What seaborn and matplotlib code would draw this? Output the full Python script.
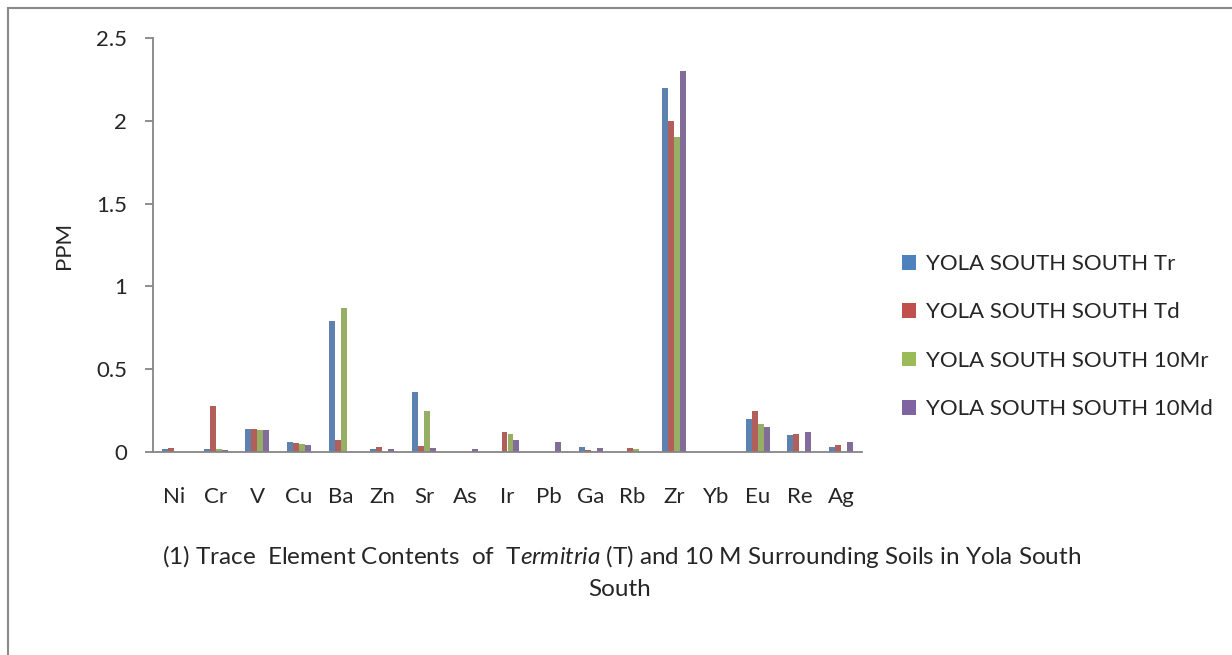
import matplotlib
matplotlib.use("Agg")
import matplotlib.pyplot as plt
import seaborn as sns
import pandas as pd
from matplotlib.patches import Patch, Rectangle

elements = ["Ni", "Cr", "V", "Cu", "Ba", "Zn", "Sr", "As", "Ir", "Pb", "Ga", "Rb", "Zr", "Yb", "Eu", "Re", "Ag"]
series_names = ["YOLA SOUTH SOUTH Tr", "YOLA SOUTH SOUTH Td", "YOLA SOUTH SOUTH 10Mr", "YOLA SOUTH SOUTH 10Md"]
tr  = [0.02, 0.02, 0.14, 0.06, 0.79, 0.02, 0.36, 0.0, 0.0, 0.0, 0.03, 0.0, 2.2, 0.0, 0.2, 0.1, 0.03]
td  = [0.025, 0.28, 0.14, 0.055, 0.07, 0.03, 0.035, 0.0, 0.12, 0.0, 0.01, 0.025, 2.0, 0.0, 0.25, 0.11, 0.04]
mr  = [0.0, 0.02, 0.13, 0.05, 0.87, 0.0, 0.25, 0.0, 0.11, 0.0, 0.005, 0.02, 1.9, 0.0, 0.17, 0.0, 0.0]
md  = [0.0, 0.01, 0.13, 0.045, 0.0, 0.02, 0.025, 0.02, 0.07, 0.06, 0.025, 0.0, 2.3, 0.0, 0.15, 0.12, 0.06]
y_ticks = [0, 0.5, 1, 1.5, 2, 2.5]
y_tick_labels = ["0", "0.5", "1", "1.5", "2", "2.5"]
colors = ["#4F81BD", "#C0504D", "#9BBB59", "#8064A2"]

rows = []
for name, vals in zip(series_names, [tr, td, mr, md]):
    for el, v in zip(elements, vals):
        rows.append({"Element": el, "Series": name, "PPM": v})
df = pd.DataFrame(rows)

sns.set_style("white")
FONT = "Lato"
FS = 16
plt.rcParams["font.family"] = [FONT, "DejaVu Sans"]
plt.rcParams["mathtext.fontset"] = "custom"
plt.rcParams["mathtext.rm"] = FONT
plt.rcParams["mathtext.it"] = FONT + ":italic"

fig = plt.figure(figsize=(12.32, 6.55), dpi=100)
ax = fig.add_axes([153/1232, 1 - 452/655, (862 - 153)/1232, (452 - 38)/655])

sns.barplot(data=df, x="Element", y="PPM", hue="Series", hue_order=series_names,
            order=elements, palette=colors, width=0.575, linewidth=0, ax=ax,
            legend=False, errorbar=None)

ax.set_ylim(0, 2.5)
ax.set_xlim(-0.5, len(elements) - 0.5)
ax.set_yticks(y_ticks)
ax.set_yticklabels(y_tick_labels)
ax.set_xlabel("")
ax.set_ylabel("PPM", fontsize=FS, labelpad=16)
for s in ["top", "right"]:
    ax.spines[s].set_visible(False)
for s in ["left", "bottom"]:
    ax.spines[s].set_color("#868686")
    ax.spines[s].set_linewidth(1.3)
ax.tick_params(axis="y", which="both", left=True, length=8 / 1.389, width=1.3, color="#868686",
               labelsize=FS, pad=13)
ax.tick_params(axis="x", bottom=False, labelsize=FS, pad=22)

handles = [Patch(facecolor=c, edgecolor="none") for c in colors]
fig.legend(handles, series_names, loc="upper left", bbox_to_anchor=(893/1232, 1 - 245/655),
           frameon=False, fontsize=FS, handlelength=0.65, handleheight=0.65,
           handletextpad=0.45, labelspacing=1.28, borderaxespad=0, borderpad=0.4)

TFS = 17.5
fig.text(622/1232, 1 - 557/655,
         "(1) Trace  Element Contents  of  T$\\mathit{ermitria}$ (T) and 10 M Surrounding Soils in Yola South",
         ha="center", va="center", fontsize=TFS)
fig.text(620/1232, 1 - 590/655, "South", ha="center", va="center", fontsize=TFS)

fig.add_artist(Rectangle((8/1232, -0.1), 1.2, 1 - 8/655 + 0.1, transform=fig.transFigure,
                         fill=False, edgecolor="#898989", linewidth=1.5))

fig.savefig("out.png", dpi=100)
